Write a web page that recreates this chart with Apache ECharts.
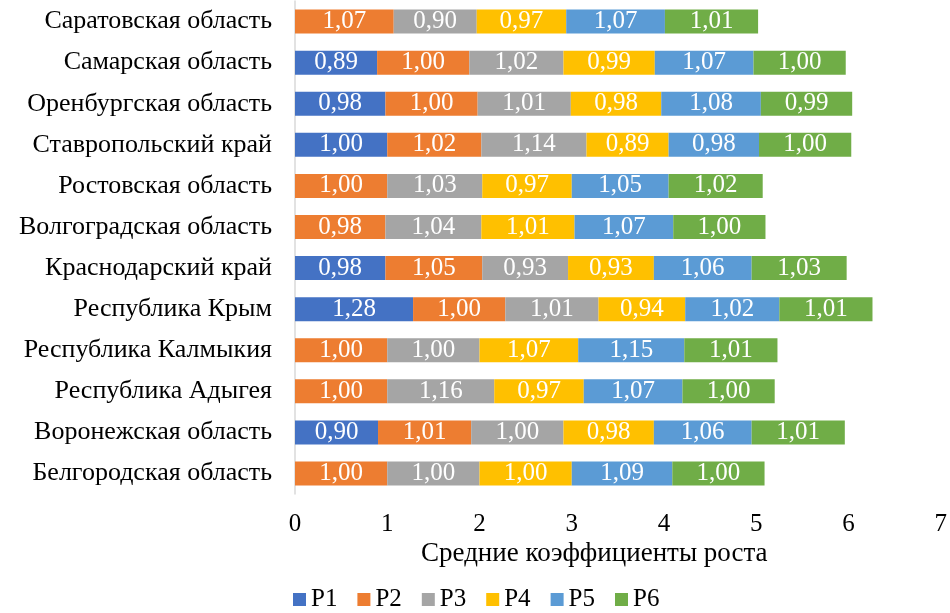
<!DOCTYPE html>
<html>
<head>
<meta charset="utf-8">
<script src="https://cdn.jsdelivr.net/npm/echarts@6/dist/echarts.min.js"></script>
<style>
  html, body { margin: 0; padding: 0; background: #fff; }
  #chart { width: 950px; height: 613px; }
</style>
</head>
<body>
<div id="chart"></div>
<script>
var regions = ['Саратовская область', 'Самарская область', 'Оренбургская область',
    'Ставропольский край', 'Ростовская область', 'Волгоградская область',
    'Краснодарский край', 'Республика Крым', 'Республика Калмыкия',
    'Республика Адыгея', 'Воронежская область', 'Белгородская область'];

var p1 = [null, 0.89, 0.98, 1.00, null, null, 0.98, 1.28, 0, 0, 0.90, 0];
var p2 = [1.07, 1.00, 1.00, 1.02, 1.00, 0.98, 1.05, 1.00, 1.00, 1.00, 1.01, 1.00];
var p3 = [0.90, 1.02, 1.01, 1.14, 1.03, 1.04, 0.93, 1.01, 1.00, 1.16, 1.00, 1.00];
var p4 = [0.97, 0.99, 0.98, 0.89, 0.97, 1.01, 0.93, 0.94, 1.07, 0.97, 0.98, 1.00];
var p5 = [1.07, 1.07, 1.08, 0.98, 1.05, 1.07, 1.06, 1.02, 1.15, 1.07, 1.06, 1.09];
var p6 = [1.01, 1.00, 0.99, 1.00, 1.02, 1.00, 1.03, 1.01, 1.01, 1.00, 1.01, 1.00];

var seriesNames = ['P1', 'P2', 'P3', 'P4', 'P5', 'P6'];
var xTicks = [0, 1, 2, 3, 4, 5, 6, 7];

var font = '"Liberation Serif", "Times New Roman", serif';

function makeSeries(name, data) {
    return {
        name: name,
        type: 'bar',
        stack: 'total',
        barWidth: 24,
        data: data,
        label: {
            show: true,
            position: 'inside',
            color: '#fff',
            fontFamily: font,
            fontSize: 25,
            formatter: function (p) {
                if (p.value === null || p.value === 0) return '';
                return p.value.toFixed(2).replace('.', ',');
            }
        }
    };
}

var chart = echarts.init(document.getElementById('chart'));
var option = {
    animation: false,
    color: ['#4472C4', '#ED7D31', '#A5A5A5', '#FFC000', '#5B9BD5', '#70AD47'],
    textStyle: { fontFamily: font },
    grid: {
        left: 295,
        right: 6,
        top: 1,
        bottom: 119,
        containLabel: false
    },
    title: {
        text: 'Средние коэффициенты роста',
        left: 421,
        top: 540,
        padding: 0,
        textStyle: { fontFamily: font, fontSize: 27, fontWeight: 'normal', color: '#000' }
    },
    legend: {
        data: seriesNames,
        left: 288,
        top: 582,
        icon: 'rect',
        itemWidth: 13,
        itemHeight: 13,
        itemGap: 20,
        textStyle: { fontFamily: font, fontSize: 25, color: '#000' }
    },
    xAxis: {
        type: 'value',
        min: xTicks[0],
        max: xTicks[xTicks.length - 1],
        interval: 1,
        splitLine: { show: false },
        axisLine: { show: false },
        axisTick: { show: false },
        axisLabel: {
            fontFamily: font,
            fontSize: 25,
            color: '#000',
            margin: 18
        }
    },
    yAxis: {
        type: 'category',
        inverse: true,
        data: regions,
        axisLine: { show: true, lineStyle: { color: '#d9d9d9', width: 1.5 } },
        axisTick: { show: false },
        axisLabel: {
            fontFamily: font,
            fontSize: 26,
            color: '#000',
            margin: 23
        }
    },
    series: [
        makeSeries(seriesNames[0], p1),
        makeSeries(seriesNames[1], p2),
        makeSeries(seriesNames[2], p3),
        makeSeries(seriesNames[3], p4),
        makeSeries(seriesNames[4], p5),
        makeSeries(seriesNames[5], p6)
    ]
};
chart.setOption(option);
</script>
</body>
</html>
